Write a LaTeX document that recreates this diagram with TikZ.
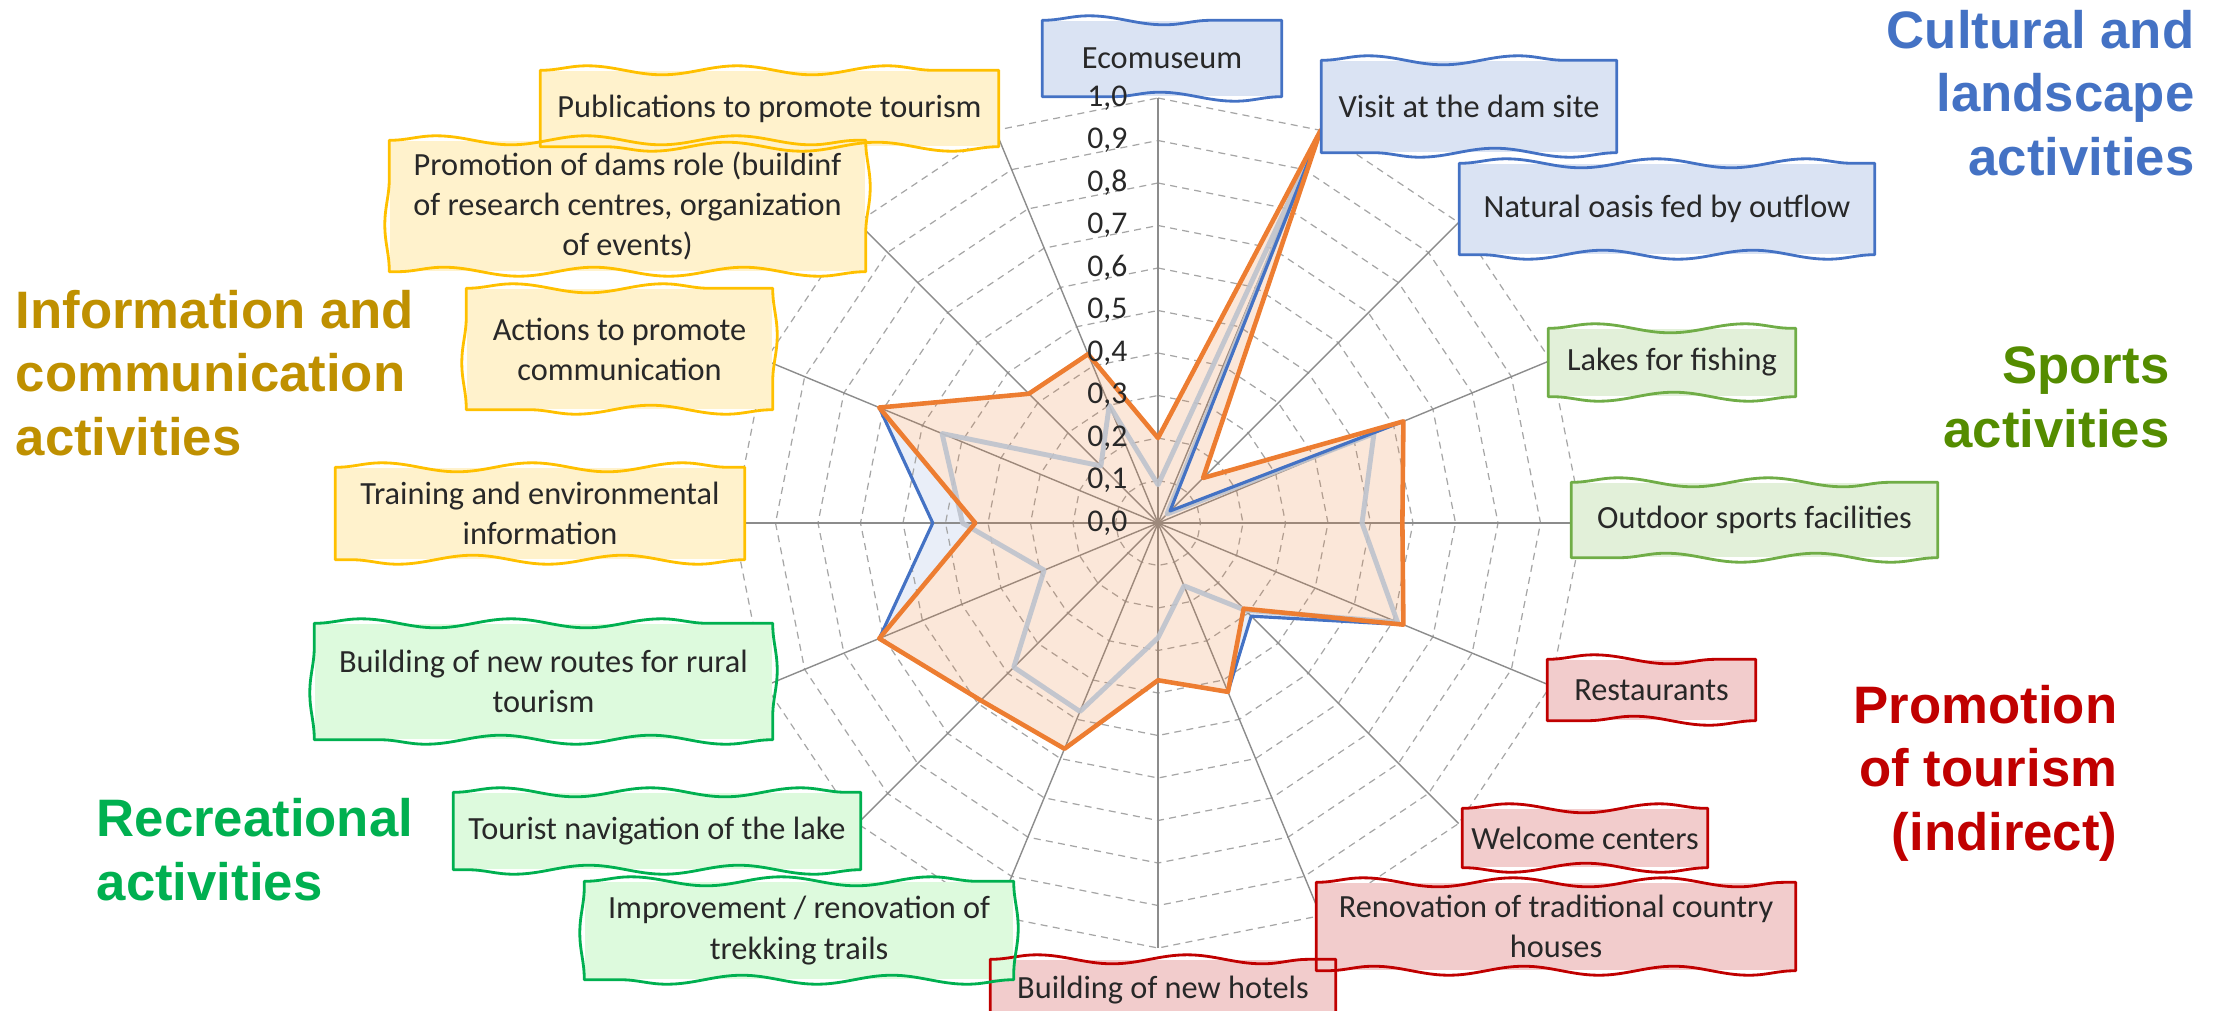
\documentclass[tikz,border=0pt]{standalone}
\usepackage{fontspec}
\setmainfont{Carlito}
\newfontfamily\titlefont{Liberation Sans}
\usetikzlibrary{decorations.pathmorphing}

\definecolor{cultblue}{RGB}{68,114,196}
\definecolor{cultfill}{RGB}{218,227,243}
\definecolor{infogold}{RGB}{191,144,0}
\definecolor{infoline}{RGB}{255,192,0}
\definecolor{infofill}{RGB}{255,242,204}
\definecolor{sportgreen}{RGB}{84,140,0}
\definecolor{sportline}{RGB}{112,173,71}
\definecolor{sportfill}{RGB}{226,240,217}
\definecolor{recrgreen}{RGB}{0,176,80}
\definecolor{recrfill}{RGB}{221,250,221}
\definecolor{promored}{RGB}{192,0,0}
\definecolor{promofill}{RGB}{242,204,204}
\definecolor{serorange}{RGB}{237,125,49}
\definecolor{serblue}{RGB}{68,114,196}
\definecolor{sergray}{RGB}{190,195,205}
\definecolor{gridgray}{RGB}{166,166,166}
\definecolor{axisgray}{RGB}{140,140,140}
\definecolor{labeltext}{RGB}{40,40,40}

\newcommand\rmax{4.25}

\tikzset{
  actbox/.style={inner sep=0pt, align=center, text=labeltext,
    font=\fontsize{9.2}{11.4}\selectfont},
  cultbox/.style={actbox, fill=cultfill},
  sportbox/.style={actbox, fill=sportfill},
  promobox/.style={actbox, fill=promofill},
  recrbox/.style={actbox, fill=recrfill},
  infobox/.style={actbox, fill=infofill},
  boxedge/.style={line width=0.8pt, line join=round,
    decoration={snake, segment length=1.5cm, amplitude=0.45mm}},
  grptitle/.style={inner sep=0pt, font=\titlefont\bfseries\fontsize{15}{18}\selectfont},
  gridline/.style={draw=gridgray, line width=0.35pt, dash pattern=on 2pt off 1.5pt},
  axisline/.style={draw=axisgray, line width=0.4pt},
  orangeline/.style={draw=serorange, line width=1.3pt, line join=round},
  blueline/.style={draw=serblue, line width=0.9pt, line join=round},
  grayline/.style={draw=sergray, line width=1.4pt, line join=round, draw opacity=0.9},
  tick/.style={inner sep=0pt, text=labeltext, font=\fontsize{9}{10}\selectfont}
}

\begin{document}
\begin{tikzpicture}
  \useasboundingbox (0,0) rectangle (22.15,-10.10);

  % radar chart
  \begin{scope}[shift={(11.58,-5.23)}]
    \foreach \v [count=\i from 0] in {0.20,1.00,0.04,0.625,0.575,0.625,0.31,0.43,0.37,0.575,0.59,0.71,0.53,0.71,0.43,0.43}
      \coordinate (bl\i) at ({90-22.5*\i}:{\v*\rmax});
    \foreach \v [count=\i from 0] in {0.20,1.00,0.15,0.625,0.575,0.625,0.285,0.43,0.37,0.575,0.59,0.71,0.43,0.71,0.43,0.43}
      \coordinate (or\i) at ({90-22.5*\i}:{\v*\rmax});
    \foreach \v [count=\i from 0] in {0.09,0.95,0.03,0.55,0.48,0.61,0.29,0.16,0.27,0.48,0.48,0.29,0.46,0.55,0.19,0.30}
      \coordinate (gr\i) at ({90-22.5*\i}:{\v*\rmax});

    \fill[cultfill!60] (bl0) \foreach \i in {1,...,15}{ -- (bl\i)} -- cycle;
    \fill[white] (or0) \foreach \i in {1,...,15}{ -- (or\i)} -- cycle;

    \foreach \k in {1,...,10}
      \draw[gridline] (90:{\k*\rmax/10}) \foreach \i in {1,...,15}{ -- ({90-22.5*\i}:{\k*\rmax/10})} -- cycle;
    \foreach \i in {0,...,15}
      \draw[axisline] (0,0) -- ({90-22.5*\i}:\rmax);

    \fill[serorange, fill opacity=0.18] (or0) \foreach \i in {1,...,15}{ -- (or\i)} -- cycle;
    \draw[grayline] (gr0) \foreach \i in {1,...,15}{ -- (gr\i)} -- cycle;
    \draw[blueline] (bl0) \foreach \i in {1,...,15}{ -- (bl\i)} -- cycle;
    \draw[orangeline] (or0) \foreach \i in {1,...,15}{ -- (or\i)} -- cycle;
  \end{scope}

  % activity boxes
  \node[cultbox, minimum width=2.38cm, minimum height=0.75cm] (eco) at (11.62,-0.585) {Ecomuseum};
  \node[cultbox, minimum width=2.94cm, minimum height=0.91cm] (dam) at (14.69,-1.065) {Visit at the dam site};
  \node[cultbox, minimum width=4.14cm, minimum height=0.90cm] (oasis) at (16.67,-2.09) {Natural oasis fed by outflow};
  \node[sportbox, minimum width=2.46cm, minimum height=0.67cm] (lakes) at (16.72,-3.625) {Lakes for fishing};
  \node[sportbox, minimum width=3.65cm, minimum height=0.74cm] (outdoor) at (17.545,-5.20) {Outdoor sports facilities};
  \node[promobox, minimum width=2.07cm, minimum height=0.60cm] (rest) at (16.515,-6.90) {Restaurants};
  \node[promobox, minimum width=2.44cm, minimum height=0.58cm] (welcome) at (15.85,-8.38) {Welcome centers};
  \node[promobox, minimum width=4.78cm, minimum height=0.87cm] (renov) at (15.56,-9.265) {Renovation of traditional country\\houses};
  \node[promobox, minimum width=3.44cm, minimum height=0.60cm] (hotels) at (11.63,-9.90) {Building of new hotels};
  \node[recrbox, minimum width=4.28cm, minimum height=0.97cm] (trek) at (7.99,-9.305) {Improvement / renovation of\\trekking trails};
  \node[recrbox, minimum width=4.06cm, minimum height=0.76cm] (navig) at (6.57,-8.31) {Tourist navigation of the lake};
  \node[recrbox, minimum width=4.57cm, minimum height=1.15cm] (routes) at (5.435,-6.815) {Building of new routes for rural\\tourism};
  \node[infobox, minimum width=4.08cm, minimum height=0.91cm] (training) at (5.40,-5.135) {Training and environmental\\information};
  \node[infobox, minimum width=3.05cm, minimum height=1.20cm] (actions) at (6.195,-3.49) {Actions to promote\\communication};
  \node[infobox, minimum width=4.75cm, minimum height=1.30cm] (promo) at (6.275,-2.06) {Promotion of dams role (buildinf\\of research centres, organization\\of events)};
  \node[infobox, minimum width=4.57cm, minimum height=0.75cm] (publ) at (7.695,-1.085) {Publications to promote tourism};

  % sketchy outlines
  \foreach \b/\c in {eco/cultblue, dam/cultblue, oasis/cultblue, lakes/sportline, outdoor/sportline,
      rest/promored, welcome/promored, renov/promored, hotels/promored,
      trek/recrgreen, navig/recrgreen, routes/recrgreen,
      training/infoline, actions/infoline, promo/infoline, publ/infoline}
    \draw[boxedge, draw=\c] (\b.south west) decorate{-- (\b.north west)} decorate{-- (\b.north east)}
      decorate{-- (\b.south east)} decorate{-- (\b.south west)} -- cycle;

  % scale labels
  \begin{scope}[shift={(11.58,-5.23)}]
    \foreach \k in {0,...,9}
      \node[tick, anchor=east] (t\k) at (-0.30,{\k*\rmax/10}) {0,\k};
    \node[tick, anchor=east] (t10) at (-0.30,\rmax) {1,0};
  \end{scope}

  % group titles
  \node[grptitle, text=cultblue, align=right, anchor=base east] (tcult) at (21.95,-1.75) {Cultural and\\landscape\\activities};
  \node[grptitle, text=sportgreen, align=right, anchor=base east] (tsport) at (21.70,-4.47) {Sports\\activities};
  \node[grptitle, text=promored, align=right, anchor=base east] (tpromo) at (21.18,-8.50) {Promotion\\of tourism\\(indirect)};
  \node[grptitle, text=infogold, align=left, anchor=base west] (tinfo) at (0.15,-4.55) {Information and\\communication\\activities};
  \node[grptitle, text=recrgreen, align=left, anchor=base west] (trecr) at (0.96,-9.00) {Recreational\\activities};
\end{tikzpicture}
\end{document}
